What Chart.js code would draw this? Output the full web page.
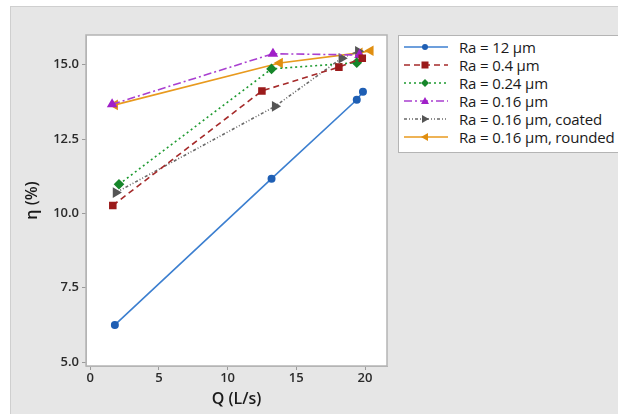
<!DOCTYPE html>
<html>
<head>
<meta charset="utf-8">
<script src="https://cdn.jsdelivr.net/npm/chart.js@4"></script>
<style>
  html, body { margin: 0; padding: 0; background: #ffffff; }
  #wrap { position: relative; width: 618px; height: 414px; overflow: hidden; background: #ffffff; }
  #bg { position: absolute; left: 10px; top: 6px; width: 620px; height: 420px; background: #e6e6e6; border-left: 1px solid #cfcfcf; border-top: 1px solid #cfcfcf; }
  #c { position: absolute; left: 0; top: 0; }
  #legend { position: absolute; left: 398px; top: 35px; width: 240px; height: 116px; background: #ffffff; border: 1px solid #b4b4b4; font-family: "Open Sans", "Noto Sans", sans-serif; font-size: 15px; font-weight: 500; letter-spacing: -0.15px; color: #1a1a1a; }
  .row { position: absolute; left: 0; height: 18px; display: flex; align-items: center; white-space: nowrap; }
  .row svg { margin-left: 4px; margin-right: 10px; }
</style>
</head>
<body>
<div id="wrap">
  <div id="bg"></div>
  <canvas id="c" width="618" height="414"></canvas>
  <div id="legend"></div>
</div>
<script>
// ---- data ----
const seriesNames = ["Ra = 12 µm", "Ra = 0.4 µm", "Ra = 0.24 µm", "Ra = 0.16 µm", "Ra = 0.16 µm, coated", "Ra = 0.16 µm, rounded"];

const qRa12 = [1.8, 13.2, 19.4, 19.85];
const etaRa12 = [6.25, 11.17, 13.82, 14.09];

const qRa04 = [1.65, 12.5, 18.1, 19.8];
const etaRa04 = [10.27, 14.12, 14.92, 15.22];

const qRa024 = [2.1, 13.2, 19.4];
const etaRa024 = [10.98, 14.86, 15.07];

const qRa016 = [1.6, 13.3, 19.6];
const etaRa016 = [13.67, 15.37, 15.33];

const qCoated = [1.87, 13.45, 18.3, 19.5];
const etaCoated = [10.7, 13.6, 15.22, 15.45];

const qRounded = [1.8, 13.8, 19.6, 20.4];
const etaRounded = [13.65, 15.06, 15.4, 15.47];

const xTickValues = [0, 5, 10, 15, 20];
const yTickValues = [5.0, 7.5, 10.0, 12.5, 15.0];

// ---- styling ----
const styles = [
  { line: "#3c7fd0", point: "#1f5fb4", dash: [], marker: "circle", rot: 0, r: 3.2 },
  { line: "#a52a2a", point: "#9b1b1b", dash: [6, 4], marker: "rect", rot: 0, r: 4.2 },
  { line: "#1e9a30", point: "#16862a", dash: [2, 3], marker: "rectRot", rot: 0, r: 4.2 },
  { line: "#a93fd0", point: "#a020c8", dash: [8, 3, 2, 3], marker: "triangle", rot: 0, r: 4.5 },
  { line: "#6a6a6a", point: "#555555", dash: [3, 2, 1, 2, 1, 2], marker: "triangle", rot: 90, r: 4.5 },
  { line: "#e89a1e", point: "#e08e10", dash: [], marker: "triangle", rot: -90, r: 4.5 }
];

const xs = [qRa12, qRa04, qRa024, qRa016, qCoated, qRounded];
const ys = [etaRa12, etaRa04, etaRa024, etaRa016, etaCoated, etaRounded];

const datasets = seriesNames.map((name, i) => ({
  label: name,
  data: xs[i].map((x, j) => ({ x: x, y: ys[i][j] })),
  showLine: true,
  borderColor: styles[i].line,
  borderWidth: 1.6,
  borderDash: styles[i].dash,
  backgroundColor: styles[i].point,
  pointBackgroundColor: styles[i].point,
  pointBorderColor: styles[i].point,
  pointStyle: styles[i].marker,
  pointRotation: styles[i].rot,
  pointRadius: styles[i].r,
  tension: 0
}));

const plotBg = {
  id: "plotBg",
  beforeDraw(chart) {
    const { ctx, chartArea: a } = chart;
    ctx.save();
    ctx.fillStyle = "#ffffff";
    ctx.fillRect(a.left, a.top, a.right - a.left, a.bottom - a.top);
    ctx.restore();
  },
  afterDraw(chart) {
    const { ctx, chartArea: a } = chart;
    ctx.save();
    ctx.strokeStyle = "#b4b4b4";
    ctx.lineWidth = 1.5;
    ctx.strokeRect(a.left, a.top, a.right - a.left, a.bottom - a.top);
    ctx.restore();
  }
};

const tickFont = { family: "'Open Sans', 'Noto Sans', sans-serif", size: 13, weight: "600" };
const titleFont = { family: "'Open Sans', 'Noto Sans', sans-serif", size: 16, weight: "600" };

new Chart(document.getElementById("c"), {
  type: "scatter",
  data: { datasets },
  plugins: [plotBg],
  options: {
    responsive: false,
    animation: false,
    layout: { padding: { left: 10, top: 35, right: 231, bottom: 0 } },
    plugins: { legend: { display: false }, tooltip: { enabled: false } },
    scales: {
      x: {
        type: "linear",
        min: -0.3, max: 21.6,
        afterBuildTicks: s => { s.ticks = xTickValues.map(v => ({ value: v })); },
        afterFit: s => { s.height = 48; },
        ticks: { color: "#2a2a2a", font: tickFont, padding: 0, maxRotation: 0 },
        grid: { display: true, drawOnChartArea: false, drawTicks: true, tickLength: 4, color: "#9a9a9a" },
        border: { display: true, color: "#b4b4b4" },
        title: { display: true, text: "Q (L/s)", color: "#1a1a1a", font: titleFont, padding: { top: 0, bottom: 5 } }
      },
      y: {
        type: "linear",
        min: 4.87, max: 16.0,
        afterBuildTicks: s => { s.ticks = yTickValues.map(v => ({ value: v })); },
        afterFit: s => { s.width = 76; },
        ticks: { color: "#2a2a2a", font: tickFont, padding: 3, callback: v => Number(v).toFixed(1) },
        grid: { display: true, drawOnChartArea: false, drawTicks: true, tickLength: 4, color: "#9a9a9a" },
        border: { display: true, color: "#b4b4b4" },
        title: { display: true, text: "η (%)", color: "#1a1a1a", font: titleFont, padding: { top: 13, bottom: 0 } }
      }
    }
  }
});

// ---- HTML legend ----
const leg = document.getElementById("legend");
const rowTops = [2, 20, 38, 56, 74, 92];
function markerSvg(st) {
  const cx = 22, cy = 9, c = st.point;
  if (st.marker === "circle") return `<circle cx="${cx}" cy="${cy}" r="3" fill="${c}"/>`;
  if (st.marker === "rect") return `<rect x="${cx - 3.5}" y="${cy - 3.5}" width="7" height="7" fill="${c}"/>`;
  if (st.marker === "rectRot") return `<polygon points="${cx},${cy - 4} ${cx + 4},${cy} ${cx},${cy + 4} ${cx - 4},${cy}" fill="${c}"/>`;
  if (st.rot === 90) return `<polygon points="${cx + 4},${cy} ${cx - 3},${cy - 4} ${cx - 3},${cy + 4}" fill="${c}"/>`;
  if (st.rot === -90) return `<polygon points="${cx - 4},${cy} ${cx + 3},${cy - 4} ${cx + 3},${cy + 4}" fill="${c}"/>`;
  return `<polygon points="${cx},${cy - 4} ${cx + 4},${cy + 3} ${cx - 4},${cy + 3}" fill="${c}"/>`;
}
seriesNames.forEach((name, i) => {
  const st = styles[i];
  const row = document.createElement("div");
  row.className = "row";
  row.style.top = rowTops[i] + "px";
  const dash = st.dash.length ? `stroke-dasharray="${st.dash.join(",")}"` : "";
  row.innerHTML = `<svg width="46" height="18"><line x1="1" y1="9" x2="45" y2="9" stroke="${st.line}" stroke-width="1.6" ${dash}/>${markerSvg(st)}</svg><span>${name}</span>`;
  leg.appendChild(row);
});
</script>
</body>
</html>
